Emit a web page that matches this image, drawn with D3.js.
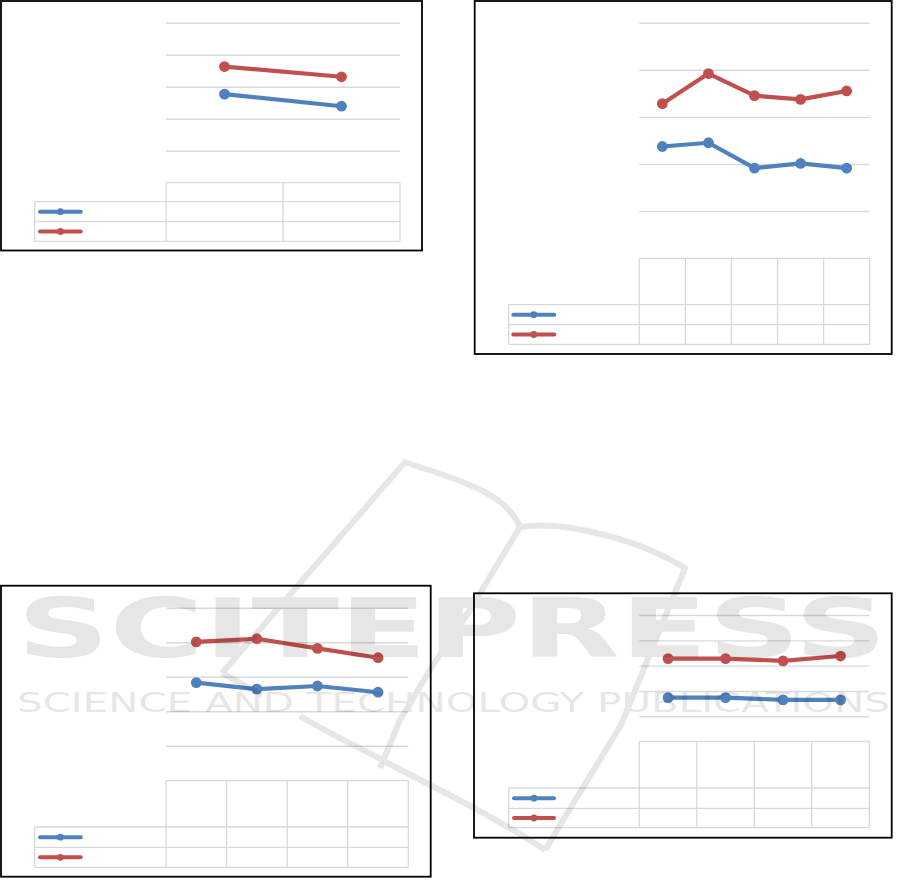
<!DOCTYPE html>
<html>
<head>
<meta charset="utf-8">
<script src="https://cdn.jsdelivr.net/npm/d3@7"></script>
<style>
  html, body { margin: 0; padding: 0; background: #fff; }
  svg { display: block; }
</style>
</head>
<body>
<svg id="chart" width="905" height="887"></svg>
<script>
// ---------- DATA (values in grid units; bottom gridline = 0) ----------
const yTicks = [0, 1, 2, 3, 4];

const p1Categories = ["c1", "c2"];
const p1Blue = [1.77, 1.39];
const p1Red  = [2.63, 2.31];

const p2Categories = ["c1", "c2", "c3", "c4", "c5"];
const p2Blue = [1.37, 1.45, 0.91, 1.01, 0.91];
const p2Red  = [2.28, 2.92, 2.45, 2.37, 2.55];

const p3Categories = ["c1", "c2", "c3", "c4"];
const p3Blue = [1.83, 1.64, 1.73, 1.55];
const p3Red  = [3.01, 3.10, 2.82, 2.55];

const p4Categories = ["c1", "c2", "c3", "c4"];
const p4Blue = [0.74, 0.74, 0.65, 0.65];
const p4Red  = [2.28, 2.28, 2.19, 2.38];

const watermarkTitle = "SCITEPRESS";
const watermarkSubtitle = "SCIENCE AND TECHNOLOGY PUBLICATIONS";

// ---------- STYLE ----------
const BLUE = "#4F81BD", RED = "#C0504D", GRID = "#D9D9D9";

const svg = d3.select("#chart");

// ---------- PANEL LAYOUTS ----------
const panels = [
  { cats: p1Categories, blue: p1Blue, red: p1Red,
    frame: [1, 1, 422, 250.5], px: [166, 400], py: [150.7, 22.7],
    table: [182.7, 201.7, 221.7, 241.3], legLeft: 34.7, legLine: [40, 80.7] },
  { cats: p2Categories, blue: p2Blue, red: p2Red,
    frame: [474.7, 1, 891.7, 354], px: [639.3, 869.7], py: [211, 22.7],
    table: [258.3, 304.7, 324.7, 344.3], legLeft: 508.7, legLine: [513.3, 554.3] },
  { cats: p3Categories, blue: p3Blue, red: p3Red,
    frame: [1, 585.7, 430.7, 876.7], px: [166, 408.3], py: [745.7, 607.7],
    table: [780.7, 827, 847.3, 867.3], legLeft: 34.7, legLine: [40, 80.7] },
  { cats: p4Categories, blue: p4Blue, red: p4Red,
    frame: [474, 593.3, 891.7, 837.7], px: [639.3, 869.3], py: [716.3, 615],
    table: [741.3, 788, 808.3, 827.7], legLeft: 508.7, legLine: [514, 554] }
];

panels.forEach(p => {
  const g = svg.append("g");
  const [fx0, fy0, fx1, fy1] = p.frame;

  // frame
  g.append("rect")
    .attr("x", fx0).attr("y", fy0)
    .attr("width", fx1 - fx0).attr("height", fy1 - fy0)
    .attr("fill", "#fff").attr("stroke", "#000").attr("stroke-width", 1.8);

  const x = d3.scaleBand().domain(p.cats).range(p.px);
  const y = d3.scaleLinear().domain([0, 4]).range(p.py);

  // gridlines via axis
  const yAxis = d3.axisLeft(y).tickValues(yTicks)
    .tickSize(-(p.px[1] - p.px[0])).tickFormat("");
  const ga = g.append("g").attr("transform", `translate(${p.px[0]},0)`).call(yAxis);
  ga.select(".domain").remove();
  ga.selectAll(".tick line").attr("stroke", GRID).attr("stroke-width", 1.4);

  // data table
  const [hTop, r1Top, r2Top, bot] = p.table;
  const tg = g.append("g").attr("stroke", GRID).attr("stroke-width", 1.3).attr("fill", "none");
  tg.append("line").attr("x1", p.px[0]).attr("x2", p.px[1]).attr("y1", hTop).attr("y2", hTop);
  [r1Top, r2Top, bot].forEach(yy =>
    tg.append("line").attr("x1", p.legLeft).attr("x2", p.px[1]).attr("y1", yy).attr("y2", yy));
  tg.append("line").attr("x1", p.legLeft).attr("x2", p.legLeft).attr("y1", r1Top).attr("y2", bot);
  const bounds = p.cats.map(c => x(c)).concat([p.px[1]]);
  bounds.forEach(xx =>
    tg.append("line").attr("x1", xx).attr("x2", xx).attr("y1", hTop).attr("y2", bot));

  // legend keys
  const legend = [
    { color: BLUE, yy: (r1Top + r2Top) / 2 },
    { color: RED,  yy: (r2Top + bot) / 2 }
  ];
  legend.forEach(l => {
    g.append("line")
      .attr("x1", p.legLine[0]).attr("x2", p.legLine[1])
      .attr("y1", l.yy).attr("y2", l.yy)
      .attr("stroke", l.color).attr("stroke-width", 4).attr("stroke-linecap", "round");
    g.append("circle")
      .attr("cx", (p.legLine[0] + p.legLine[1]) / 2).attr("cy", l.yy)
      .attr("r", 3.4).attr("fill", l.color);
  });

  // series
  const line = d3.line()
    .x((d, i) => x(p.cats[i]) + x.bandwidth() / 2)
    .y(d => y(d));
  [{ vals: p.blue, color: BLUE }, { vals: p.red, color: RED }].forEach(s => {
    g.append("path").datum(s.vals)
      .attr("d", line).attr("fill", "none")
      .attr("stroke", s.color).attr("stroke-width", 4.2)
      .attr("stroke-linejoin", "round");
    g.selectAll(null).data(s.vals).enter().append("circle")
      .attr("cx", (d, i) => x(p.cats[i]) + x.bandwidth() / 2)
      .attr("cy", d => y(d))
      .attr("r", 5.4).attr("fill", s.color);
  });
});

// ---------- WATERMARK (semi-transparent overlay) ----------
const wm = svg.append("g").attr("opacity", 0.095).attr("pointer-events", "none");
const book = [
  "M222,673 L405,462 C450,478 505,490 520,527 C565,520 640,540 685,568 L621,725 L545,850",
  "M545,850 C500,820 440,790 395,767 C370,752 340,740 300,716",
  "M520,527 L470,610 L433,665 L400,720 L380,768",
  "M222,673 L262,695"
];
book.forEach(d =>
  wm.append("path").attr("d", d).attr("fill", "none")
    .attr("stroke", "#000").attr("stroke-width", 6).attr("stroke-linejoin", "round"));
wm.append("text")
  .attr("x", 17).attr("y", 657)
  .attr("font-family", "DejaVu Sans").attr("font-weight", "bold")
  .attr("font-size", 82)
  .attr("textLength", 870).attr("lengthAdjust", "spacingAndGlyphs")
  .attr("fill", "#000")
  .text(watermarkTitle);
wm.append("text")
  .attr("x", 17).attr("y", 712)
  .attr("font-family", "DejaVu Sans")
  .attr("font-size", 26)
  .attr("textLength", 873).attr("lengthAdjust", "spacingAndGlyphs")
  .attr("fill", "#000")
  .text(watermarkSubtitle);
</script>
</body>
</html>
